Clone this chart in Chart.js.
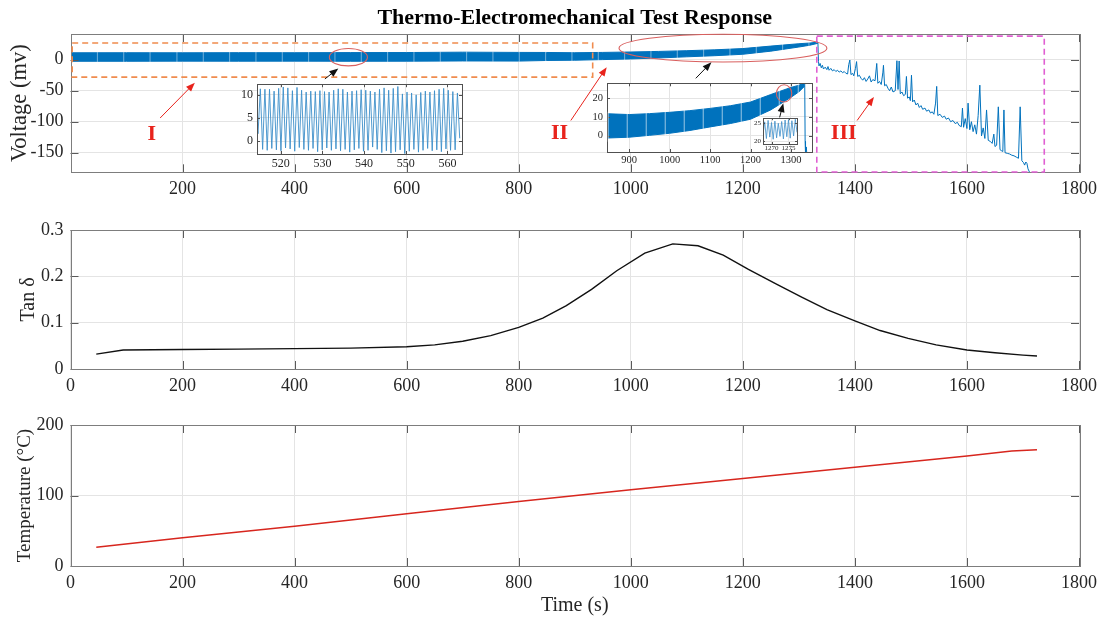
<!DOCTYPE html>
<html>
<head>
<meta charset="utf-8">
<script src="https://cdn.jsdelivr.net/npm/chart.js"></script>
<style>
  html, body { margin: 0; padding: 0; background: #fff; }
  #wrap { position: relative; width: 1104px; height: 618px; overflow: hidden; }
  #wrap canvas { position: absolute; left: 0; top: 0; }
</style>
</head>
<body>
<div id="wrap">
  <canvas id="volt" width="1104" height="618"></canvas>
  <canvas id="tan" width="1104" height="618"></canvas>
  <canvas id="temp" width="1104" height="618"></canvas>
  <canvas id="zoomA"></canvas>
  <canvas id="zoomB"></canvas>
  <canvas id="zoomC"></canvas>
</div>
<script>
// ---- data ----
const timeTicks = [0, 200, 400, 600, 800, 1000, 1200, 1400, 1600, 1800];
const voltTicks = [-150, -100, -50, 0];
const tanTicks = [0, 0.1, 0.2, 0.3];
const tempTicks = [0, 100, 200];

// stages I & II: envelope of the dense oscillation
const bandTime = [1, 100, 200, 300, 400, 500, 600, 700, 800, 850, 900, 950, 1000, 1050, 1100, 1150, 1200, 1250, 1300, 1320, 1334];
const bandLow  = [-2.5, -2.5, -2.3, -2.4, -2.3, -2.5, -2.4, -2.0, -2.2, -1.2, -0.8, 0.2, 1.3, 2.8, 4.7, 6.5, 8.8, 13.8, 20.5, 23.5, 26.5];
const bandHigh = [11.2, 11.3, 11.2, 11.4, 11.3, 11.5, 11.6, 12.2, 11.8, 11.7, 11.3, 11.8, 12.5, 13.4, 14.6, 16.0, 18.0, 22.0, 25.8, 27.0, 28.5];
// short breaks in the record, visible as thin slits in the band
const bandGapTime = [48, 95, 142, 190, 237, 284, 331, 378, 425, 472, 519, 566, 613, 660, 707, 754, 801, 848,
  895, 942, 989, 1036, 1083, 1130, 1177, 1224, 1271, 1318];

// stage III: collapse with spikes
const phase3Time = [1334, 1335, 1336, 1338, 1340, 1342, 1344, 1347, 1350, 1352,
  1354, 1357, 1360, 1363, 1366, 1369, 1372, 1375, 1378, 1381,
  1384, 1387, 1389, 1391, 1393, 1396, 1398, 1401, 1403, 1405,
  1408, 1411, 1414, 1417, 1420, 1423, 1426, 1429, 1432, 1436,
  1439, 1441, 1444, 1447, 1450, 1451, 1453, 1456, 1459, 1462,
  1465, 1468, 1472, 1475, 1477, 1479, 1481, 1484, 1487, 1490,
  1492, 1494, 1497, 1499, 1501, 1503, 1506, 1509, 1512, 1515,
  1518, 1521, 1525, 1528, 1532, 1535, 1538, 1541, 1544, 1546,
  1548, 1552, 1556, 1560, 1563, 1567, 1571, 1575, 1579, 1583,
  1586, 1590, 1592, 1594, 1597, 1600, 1602, 1605, 1608, 1611,
  1614, 1617, 1620, 1623, 1626, 1629, 1632, 1635, 1638, 1642,
  1645, 1648, 1650, 1653, 1656, 1659, 1662, 1664, 1666, 1668,
  1672, 1676, 1680, 1684, 1688, 1692, 1695, 1698, 1701, 1703,
  1705, 1707, 1709, 1712];
const phase3Volt = [28, -3, -10, -6, -13, -9, -15, -12, -16, -11,
  -17, -14, -18, -16, -19, -17, -20, -18, -21, -19,
  -22, -23, -8, -0.5, -24, -22, -26, -14, -3, -27,
  -25, -30, -33, -29, -35, -31, -26, -36, -32, -34,
  -6, -38, -35, -40, -20, -9, -42, -40, -46, -50,
  -44, -52, -50, -1.6, -48, -2, -55, -52, -58, -56,
  -27, -62, -60, -66, -25, -68, -65, -73, -70, -77,
  -74, -80, -78, -83, -81, -86, -84, -88, -70, -43,
  -90, -88, -93, -91, -96, -94, -100, -98, -103, -101,
  -106, -108, -78, -109, -95, -111, -70, -113, -100, -116,
  -105, -120, -90, -41, -123, -110, -127, -81, -130, -132,
  -135, -120, -140, -138, -76, -145, -147, -148, -81, -150,
  -151, -152, -154, -155, -157, -159, -76, -163, -166, -170,
  -165, -167, -176, -182];

// inset A: 514-563 s
const zoomATime = [514.0, 514.55, 515.1, 515.65, 516.2, 516.75, 517.3, 517.85, 518.4, 518.95,
  519.5, 520.05, 520.6, 521.15, 521.7, 522.25, 522.8, 523.35, 523.9, 524.45,
  525.0, 525.55, 526.1, 526.65, 527.2, 527.75, 528.3, 528.85, 529.4, 529.95,
  530.5, 531.05, 531.6, 532.15, 532.7, 533.25, 533.8, 534.35, 534.9, 535.45,
  536.0, 536.55, 537.1, 537.65, 538.2, 538.75, 539.3, 539.85, 540.4, 540.95,
  541.5, 542.05, 542.6, 543.15, 543.7, 544.25, 544.8, 545.35, 545.9, 546.45,
  547.0, 547.55, 548.1, 548.65, 549.2, 549.75, 550.3, 550.85, 551.4, 551.95,
  552.5, 553.05, 553.6, 554.15, 554.7, 555.25, 555.8, 556.35, 556.9, 557.45,
  558.0, 558.55, 559.1, 559.65, 560.2, 560.75, 561.3, 561.85, 562.4, 562.95, 563.5];
const zoomAVolt = [5.0, 1.6,
  11.3, -1.8, 11.2, -2.0, 11.2, -1.6, 10.8, -1.9, 11.4, -2.1, 11.7, -1.5, 11.5, -1.7, 10.9, -2.2, 11.6, -1.4, 11.0, -1.8,
  10.6, -2.0, 10.8, -1.6, 10.7, -2.3, 10.9, -1.9, 10.7, -1.5, 10.6, -2.0, 11.0, -1.7, 11.3, -2.1, 11.2, -1.8, 10.6, -2.4,
  10.8, -1.9, 10.9, -1.6, 11.1, -2.2, 11.0, -2.0, 10.8, -1.3, 10.6, -1.8, 11.2, -2.5, 11.5, -2.1, 11.0, -2.6, 11.4, -2.3,
  11.8, -1.9, 10.2, -2.7, 10.6, -2.2, 10.4, -1.8, 10.0, -2.4, 10.5, -2.0, 10.8, -1.6, 10.6, -2.1, 10.9, -1.9, 11.2, -2.3,
  11.4, -1.7, 11.0, -2.0,
  10.7, -1.9, 10.4, 0.6];
const zoomATicksX = [520, 530, 540, 550, 560];
const zoomATicksY = [0, 5, 10];

// inset B: 845-1352 s (uses the band + stage III arrays)
const zoomBTicksX = [900, 1000, 1100, 1200, 1300];
const zoomBTicksY = [0, 10, 20];

// inset C: 1267.5-1277.5 s
const zoomCTime = [1267.5, 1268, 1268.5, 1269, 1269.5, 1270, 1270.5, 1271, 1271.5, 1272, 1272.5,
  1273, 1273.5, 1274, 1274.5, 1275, 1275.5, 1276, 1276.5, 1277, 1277.5];
const zoomCVolt = [22.0, 25.4, 20.8, 25.8, 21.2, 25.2, 20.6, 25.6, 21.0, 25.0, 21.4,
  25.5, 20.7, 25.9, 21.3, 26.0, 20.9, 25.7, 21.5, 26.1, 22.5];
const zoomCTicksX = [1270, 1275];
const zoomCTicksY = [20, 25];

const tanTime  = [46, 94, 200, 300, 400, 500, 600, 650, 700, 750, 800, 843, 885, 930, 975, 1025, 1075, 1120, 1165, 1210,
  1260, 1305, 1350, 1400, 1445, 1495, 1545, 1600, 1650, 1700, 1725];
const tanDelta = [0.032, 0.041, 0.042, 0.043, 0.044, 0.045, 0.048, 0.052, 0.060, 0.072, 0.090, 0.110, 0.137, 0.172, 0.212, 0.250, 0.270, 0.266, 0.246, 0.215,
  0.183, 0.155, 0.128, 0.104, 0.083, 0.066, 0.052, 0.041, 0.035, 0.030, 0.028];

const tempTime  = [46, 200, 400, 600, 800, 1000, 1200, 1400, 1600, 1680, 1725];
const tempValue = [26.5, 40, 56.5, 74, 91.5, 108, 124, 140, 156, 163, 165];

// ---- styling ----
const serif = '"Liberation Serif", "Times New Roman", serif';
const blue = '#0072bd';
const lightBlue = '#3d8ec9';
const gridColor = '#e4e4e4';
const ink = '#262626';

function pts(xs, ys) { return xs.map((t, i) => ({ x: t, y: ys[i] })); }
function fixed(list) { return s => { s.ticks = list.map(v => ({ value: v })); }; }
const plain = v => String(v);

// MATLAB-like box with inward ticks
const frame = {
  id: 'frame',
  beforeDraw(chart, args, o) {
    if (!o.fill) return;
    const a = chart.chartArea, ctx = chart.ctx;
    ctx.save();
    ctx.fillStyle = '#fff';
    ctx.fillRect(a.left, a.top, a.right - a.left, a.bottom - a.top);
    ctx.restore();
  },
  afterDatasetsDraw(chart, args, o) {
    const { ctx, chartArea: a, scales: { x, y } } = chart;
    const len = o.tick || 0;
    ctx.save();
    ctx.lineWidth = 1;
    ctx.strokeStyle = o.tickColor || '#555';
    ctx.beginPath();
    x.ticks.forEach(t => {
      const p = Math.round(x.getPixelForValue(t.value)) + 0.5;
      ctx.moveTo(p, a.bottom); ctx.lineTo(p, a.bottom - len);
      ctx.moveTo(p, a.top); ctx.lineTo(p, a.top + len);
    });
    y.ticks.forEach(t => {
      const p = Math.round(y.getPixelForValue(t.value)) + 0.5;
      ctx.moveTo(a.left, p); ctx.lineTo(a.left + len, p);
      ctx.moveTo(a.right, p); ctx.lineTo(a.right - len, p);
    });
    ctx.stroke();
    ctx.strokeStyle = o.color || '#808080';
    ctx.strokeRect(Math.round(a.left) + 0.5, Math.round(a.top) + 0.5,
      Math.round(a.right - a.left), Math.round(a.bottom - a.top));
    ctx.restore();
  }
};

// thin slits across the band at the record breaks
const slits = {
  id: 'slits',
  afterDatasetsDraw(chart, args, o) {
    const { ctx, chartArea: a, scales: { x, y } } = chart;
    ctx.save();
    ctx.beginPath();
    ctx.rect(a.left, a.top, a.right - a.left, a.bottom - a.top);
    ctx.clip();
    ctx.strokeStyle = o.color || 'rgba(255,255,255,0.45)';
    ctx.lineWidth = o.width || 1;
    ctx.beginPath();
    bandGapTime.forEach(t => {
      let i = 0;
      while (i < bandTime.length - 2 && bandTime[i + 1] < t) i++;
      const hi = Math.max(bandHigh[i], bandHigh[i + 1]) + 1;
      const lo = Math.min(bandLow[i], bandLow[i + 1]) - 1;
      const p = x.getPixelForValue(t);
      ctx.moveTo(p, y.getPixelForValue(hi));
      ctx.lineTo(p, y.getPixelForValue(lo));
    });
    ctx.stroke();
    ctx.restore();
  }
};

function arrow(ctx, x1, y1, x2, y2, color) {
  const ang = Math.atan2(y2 - y1, x2 - x1), L = 9, W = 3.5;
  ctx.strokeStyle = color; ctx.fillStyle = color; ctx.lineWidth = 1;
  ctx.beginPath(); ctx.moveTo(x1, y1);
  ctx.lineTo(x2 - Math.cos(ang) * L * 0.8, y2 - Math.sin(ang) * L * 0.8); ctx.stroke();
  ctx.beginPath();
  ctx.moveTo(x2, y2);
  ctx.lineTo(x2 - L * Math.cos(ang) + W * Math.sin(ang), y2 - L * Math.sin(ang) - W * Math.cos(ang));
  ctx.lineTo(x2 - L * Math.cos(ang) - W * Math.sin(ang), y2 - L * Math.sin(ang) + W * Math.cos(ang));
  ctx.closePath(); ctx.fill();
}
function ellipse(ctx, cx, cy, rx, ry, color) {
  ctx.strokeStyle = color; ctx.lineWidth = 1.1;
  ctx.beginPath(); ctx.ellipse(cx, cy, Math.abs(rx), Math.abs(ry), 0, 0, Math.PI * 2); ctx.stroke();
}

// stage boxes, ellipses, arrows and labels on the voltage panel (data units)
const stages = {
  id: 'stages',
  afterDatasetsDraw(chart) {
    const { ctx, scales: { x, y } } = chart;
    const X = v => x.getPixelForValue(v), Y = v => y.getPixelForValue(v);
    ctx.save();
    ctx.lineWidth = 1.6;
    ctx.setLineDash([6, 4]);
    ctx.strokeStyle = '#f08c4e';
    ctx.strokeRect(X(3), Y(27), X(932) - X(3), Y(-28) - Y(27));
    ctx.strokeStyle = '#e05fd2';
    ctx.strokeRect(X(1332), Y(38), X(1738) - X(1332), Y(-181) - Y(38));
    ctx.setLineDash([]);
    ellipse(ctx, X(496), Y(4), X(530) - X(496), Y(-10) - Y(4), '#d9605f');
    ellipse(ctx, X(1164.5), Y(18.7), X(1350) - X(1164.5), Y(-3.7) - Y(18.7), '#d9605f');
    arrow(ctx, X(454), Y(-31), X(478), Y(-14), '#111');
    arrow(ctx, X(1116), Y(-30), X(1144), Y(-4), '#111');
    arrow(ctx, X(160), Y(-94), X(222), Y(-37), '#e8231c');
    arrow(ctx, X(893), Y(-98), X(957), Y(-12), '#e8231c');
    arrow(ctx, X(1404), Y(-98), X(1434), Y(-60), '#e8231c');
    ctx.fillStyle = '#e8231c';
    ctx.font = 'bold 22px ' + serif;
    ctx.textAlign = 'center'; ctx.textBaseline = 'middle';
    ctx.fillText('I', X(145), Y(-121));
    ctx.fillText('II', X(873), Y(-119));
    ctx.fillText('III', X(1380), Y(-119));
    ctx.restore();
  }
};

const stagesB = {
  id: 'stagesB',
  afterDatasetsDraw(chart) {
    const { ctx, scales: { x, y } } = chart;
    const X = v => x.getPixelForValue(v), Y = v => y.getPixelForValue(v);
    ctx.save();
    ellipse(ctx, X(1283), Y(22.6), X(1302) - X(1283), Y(18) - Y(22.6), '#d9605f');
    arrow(ctx, X(1272), Y(9.8), X(1281), Y(17.4), '#111');
    ctx.restore();
  }
};

function panel(id, c) {
  return new Chart(document.getElementById(id), {
    type: 'line',
    data: { datasets: c.datasets },
    options: {
      responsive: false, animation: false, events: [],
      layout: { padding: c.padding },
      elements: { point: { radius: 0 }, line: { tension: 0 } },
      plugins: {
        legend: { display: false }, tooltip: { enabled: false },
        title: c.title || { display: false },
        frame: { tick: 8, color: '#7d7d7d', tickColor: '#5a5a5a' }
      },
      scales: {
        x: {
          type: 'linear', min: 0, max: 1800,
          afterBuildTicks: fixed(c.xTicks),
          afterFit: s => { s.height = c.xHeight; },
          grid: { color: gridColor, drawTicks: false },
          border: { display: false },
          ticks: { font: { family: serif, size: 18 }, color: ink, padding: 6, maxRotation: 0, autoSkip: false, callback: plain },
          title: c.xTitle || { display: false }
        },
        y: {
          min: c.yMin, max: c.yMax,
          afterBuildTicks: fixed(c.yTicks),
          afterFit: s => { s.width = 70.5; },
          grid: { color: gridColor, drawTicks: false },
          border: { display: false },
          ticks: { font: { family: serif, size: 18 }, color: ink, padding: 7, callback: plain },
          title: { display: true, text: c.yLabel, color: ink,
            font: { family: serif, size: c.yLabelSize, lineHeight: 1.2 }, padding: { top: c.yLabelPad, bottom: 0 } }
        }
      }
    },
    plugins: [frame].concat(c.extra || [])
  });
}

// top: voltage
panel('volt', {
  padding: { left: 0, right: 25, top: 0, bottom: 418 },
  title: { display: true, text: 'Thermo-Electromechanical Test Response', fullSize: false, color: '#000',
    font: { family: serif, size: 22, weight: 'bold', lineHeight: 1.2 }, padding: { top: 5, bottom: 2.6 } },
  xTicks: timeTicks.slice(1), xHeight: 27.7,
  yMin: -181.6, yMax: 41.5, yTicks: voltTicks,
  yLabel: 'Voltage (mv)', yLabelSize: 22.5, yLabelPad: 6.5,
  datasets: [
    { data: pts(bandTime, bandHigh), borderColor: blue, borderWidth: 1, backgroundColor: blue, fill: '+1' },
    { data: pts(bandTime, bandLow), borderColor: blue, borderWidth: 1, fill: false },
    { data: pts(phase3Time, phase3Volt), borderColor: blue, borderWidth: 1, fill: false }
  ],
  extra: [slits, stages]
});

// middle: tan delta
panel('tan', {
  padding: { left: 0, right: 25, top: 230, bottom: 218 },
  xTicks: timeTicks, xHeight: 31,
  yMin: 0, yMax: 0.3, yTicks: tanTicks,
  yLabel: 'Tan δ', yLabelSize: 20, yLabelPad: 17,
  datasets: [{ data: pts(tanTime, tanDelta), borderColor: '#111', borderWidth: 1.4, fill: false }]
});

// bottom: temperature
panel('temp', {
  padding: { left: 0, right: 25, top: 425, bottom: 0 },
  xTicks: timeTicks, xHeight: 52,
  xTitle: { display: true, text: 'Time (s)', color: ink, font: { family: serif, size: 20, lineHeight: 1.2 }, padding: { top: 0, bottom: 0 } },
  yMin: 0, yMax: 200, yTicks: tempTicks,
  yLabel: 'Temperature (°C)', yLabelSize: 19, yLabelPad: 13.6,
  datasets: [{ data: pts(tempTime, tempValue), borderColor: '#d7261e', borderWidth: 1.5, fill: false }]
});

// insets
function inset(id, box, c) {
  const cv = document.getElementById(id);
  cv.width = box.right - box.left + c.yw + c.pr;
  cv.height = box.bottom - box.top + c.xh + c.pt;
  cv.style.left = (box.left - c.yw) + 'px';
  cv.style.top = (box.top - c.pt) + 'px';
  const font = { family: serif, size: c.font };
  return new Chart(cv, {
    type: 'line',
    data: { datasets: c.datasets },
    options: {
      responsive: false, animation: false, events: [],
      layout: { padding: { left: 0, right: c.pr, top: c.pt, bottom: 0 } },
      elements: { point: { radius: 0 }, line: { tension: 0 } },
      plugins: {
        legend: { display: false }, tooltip: { enabled: false },
        frame: { tick: c.tick, color: '#505050', tickColor: '#505050', fill: true },
        slits: { width: 1, color: 'rgba(255,255,255,0.6)' }
      },
      scales: {
        x: {
          type: 'linear', min: c.xMin, max: c.xMax,
          afterBuildTicks: fixed(c.xTicks), afterFit: s => { s.height = c.xh; },
          grid: { color: gridColor, drawTicks: false }, border: { display: false },
          ticks: { font, color: ink, padding: c.xPad, maxRotation: 0, autoSkip: false, callback: plain }
        },
        y: {
          min: c.yMin, max: c.yMax,
          afterBuildTicks: fixed(c.yTicks), afterFit: s => { s.width = c.yw; },
          grid: { color: gridColor, drawTicks: false }, border: { display: false },
          ticks: { font, color: ink, padding: c.yPad, callback: plain }
        }
      }
    },
    plugins: [frame].concat(c.extra || [])
  });
}

inset('zoomA', { left: 257, top: 79, right: 462, bottom: 154 }, {
  yw: 24, xh: 22, pt: 6, pr: 10, font: 12, xPad: 3, yPad: 4, tick: 3,
  xMin: 514.3, xMax: 563.5, yMin: -2.8, yMax: 12.3, xTicks: zoomATicksX, yTicks: zoomATicksY,
  datasets: [{ data: pts(zoomATime, zoomAVolt), borderColor: lightBlue, borderWidth: 0.9, fill: false }]
});

inset('zoomB', { left: 607, top: 79, right: 812, bottom: 152 }, {
  yw: 22, xh: 20, pt: 6, pr: 10, font: 10.5, xPad: 2, yPad: 4, tick: 3,
  xMin: 845, xMax: 1352, yMin: -8.7, yMax: 28, xTicks: zoomBTicksX, yTicks: zoomBTicksY,
  datasets: [
    { data: pts(bandTime, bandHigh), borderColor: blue, borderWidth: 1, backgroundColor: blue, fill: '+1' },
    { data: pts(bandTime, bandLow), borderColor: blue, borderWidth: 1, fill: false },
    { data: pts(phase3Time, phase3Volt), borderColor: blue, borderWidth: 1, fill: false }
  ],
  extra: [slits, stagesB]
});

inset('zoomC', { left: 763, top: 116, right: 797, bottom: 144 }, {
  yw: 14, xh: 12, pt: 4, pr: 8, font: 7, xPad: 0, yPad: 2, tick: 2,
  xMin: 1267.5, xMax: 1277.5, yMin: 19.3, yMax: 26.4, xTicks: zoomCTicksX, yTicks: zoomCTicksY,
  datasets: [{ data: pts(zoomCTime, zoomCVolt), borderColor: lightBlue, borderWidth: 0.8, fill: false }]
});
</script>
</body>
</html>
